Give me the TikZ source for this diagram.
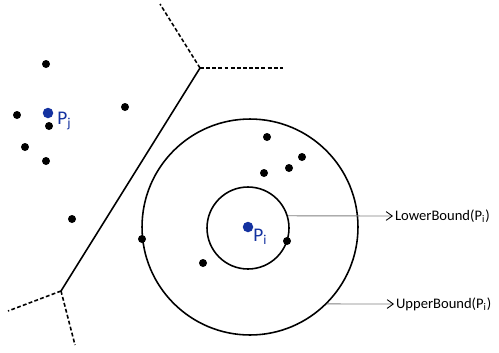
\documentclass[tikz,border=0pt]{standalone}
\usepackage{fontspec}
\setmainfont{Carlito}
\usetikzlibrary{arrows.meta}
\definecolor{pblue}{RGB}{20,50,160}
\begin{document}
\begin{tikzpicture}[
    x=0.02cm, y=-0.02cm,
    pt/.style={circle, fill=black, minimum size=1.6mm, inner sep=0pt},
    site/.style={circle, fill=pblue, minimum size=2.1mm, inner sep=0pt},
    sitelabel/.style={text=pblue, font=\fontsize{11}{13}\selectfont, inner sep=0pt},
    ring/.style={circle, draw, line width=0.9pt, inner sep=0pt},
    cell/.style={line width=0.9pt},
    cellopen/.style={line width=0.9pt, dash pattern=on 2.2pt off 1.3pt},
    bound/.style={-{Straight Barb[length=3.5pt,width=5pt,black]}, gray, line width=0.5pt},
    boundlabel/.style={anchor=west, font=\fontsize{8.3}{10}\selectfont, inner sep=1pt}
]
    \useasboundingbox (0,0) rectangle (499,352);

    % Voronoi edges
    \coordinate (vtop) at (200,68);
    \coordinate (vbot) at (61,291);
    \coordinate (etop) at (160,4);
    \coordinate (eright) at (283,68);
    \coordinate (eleft) at (8,311);
    \coordinate (edown) at (75,345);
    \draw[cell] (vtop) -- (vbot);
    \draw[cellopen] (vtop) -- (etop);
    \draw[cellopen] (vtop) -- (eright);
    \draw[cellopen] (vbot) -- (eleft);
    \draw[cellopen] (vbot) -- (edown);

    % Bound circles around P_i
    \node[ring, minimum size=4.32cm] (outer) at (250,227) {};
    \node[ring, minimum size=1.64cm] (inner) at (248,228) {};

    % Points
    \node[pt] (q1) at (46,64) {};
    \node[pt] (q2) at (125,107) {};
    \node[pt] (q3) at (17,115) {};
    \node[pt] (q4) at (49,126) {};
    \node[pt] (q5) at (25,147) {};
    \node[pt] (q6) at (46,161) {};
    \node[pt] (q7) at (72,219) {};
    \node[pt] (q8) at (142,239) {};
    \node[pt] (q9) at (267,137) {};
    \node[pt] (q10) at (302,157) {};
    \node[pt] (q11) at (289,168) {};
    \node[pt] (q12) at (264,173) {};
    \node[pt] (q13) at (287,241) {};
    \node[pt] (q14) at (203,263) {};

    % Sites
    \node[site] (pj) at (48,113) {};
    \node[site] (pi) at (248,227) {};
    \node[sitelabel, anchor=west] (pjlab) at (57,121) {P\textsubscript{j}};
    \node[sitelabel, anchor=west] (pilab) at (253,237) {P\textsubscript{i}};

    % Labels
    \node[boundlabel] (lower) at (393,216) {LowerBound(P\textsubscript{i})};
    \node[boundlabel] (upper) at (394,304) {UpperBound(P\textsubscript{i})};
    \draw[bound] (inner.17) -- (lower.west);
    \draw[bound] (outer.-45) -- (upper.west);

\end{tikzpicture}
\end{document}
